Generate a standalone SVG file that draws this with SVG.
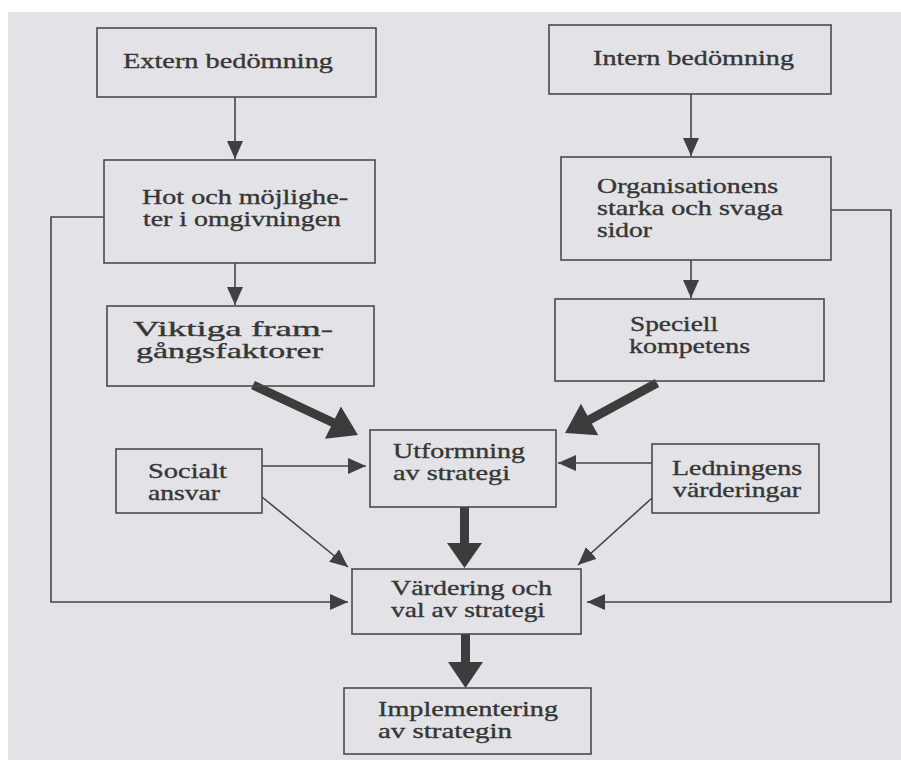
<svg xmlns="http://www.w3.org/2000/svg" width="901" height="760" viewBox="0 0 901 760">
  <defs>
    <style>
      .box { fill: none; stroke: #4a4a4a; stroke-width: 1.6; }
      .lbl { font-family: "Liberation Serif", "Times New Roman", serif; font-size: 21px; fill: #363636; stroke: #363636; stroke-width: 0.35; }
      .thin { fill: none; stroke: #454545; stroke-width: 1.6; }
      .thick { fill: none; stroke: #3c3c3c; stroke-width: 9; }
      .head { fill: #3c3c3c; }
    </style>
    <marker id="tip" markerUnits="userSpaceOnUse" markerWidth="18" markerHeight="16" refX="18" refY="8" orient="auto">
      <path d="M0,0 L18,8 L0,16 z" fill="#404040"/>
    </marker>
  </defs>

  <!-- page -->
  <rect x="0" y="0" width="901" height="760" fill="#ffffff"/>
  <rect x="8" y="12" width="893" height="748" fill="#e3e3e7"/>

  <!-- connectors -->
  <g id="connectors">
    <line class="thin" x1="235" y1="97" x2="235" y2="159" marker-end="url(#tip)"/>
    <line class="thin" x1="691" y1="94" x2="691" y2="156" marker-end="url(#tip)"/>
    <line class="thin" x1="235" y1="263" x2="235" y2="305" marker-end="url(#tip)"/>
    <line class="thin" x1="691" y1="260" x2="691" y2="298" marker-end="url(#tip)"/>
    <line class="thin" x1="262" y1="466" x2="366" y2="466" marker-end="url(#tip)"/>
    <line class="thin" x1="652" y1="463" x2="558" y2="463" marker-end="url(#tip)"/>
    <line class="thin" x1="262" y1="497" x2="348" y2="567" marker-end="url(#tip)"/>
    <line class="thin" x1="652" y1="498" x2="578" y2="565" marker-end="url(#tip)"/>
    <polyline class="thin" points="104,217 51,217 51,602 348,602" marker-end="url(#tip)"/>
    <polyline class="thin" points="831,210 891,210 891,602 587,602" marker-end="url(#tip)"/>

    <!-- heavy arrows -->
    <line class="thick" x1="253" y1="385" x2="334" y2="423"/>
    <polygon class="head" points="358,435 324.9,438.7 340.9,406.5"/>
    <line class="thick" x1="657" y1="383" x2="589" y2="420"/>
    <polygon class="head" points="565,433 580.9,403.7 598.3,435.3"/>
    <line class="thick" x1="464.5" y1="507" x2="464.5" y2="544"/>
    <polygon class="head" points="447,543 482,543 464.5,568"/>
    <line class="thick" x1="465.5" y1="634" x2="465.5" y2="663"/>
    <polygon class="head" points="448,662 483,662 465.5,688"/>
  </g>

  <g id="extern">
    <rect class="box" x="97" y="28" width="279" height="69"/>
    <text class="lbl" x="123" y="68" textLength="210" lengthAdjust="spacingAndGlyphs">Extern bedömning</text>
  </g>
  <g id="intern">
    <rect class="box" x="549" y="25" width="282" height="69"/>
    <text class="lbl" x="593" y="65" textLength="201" lengthAdjust="spacingAndGlyphs">Intern bedömning</text>
  </g>
  <g id="hot">
    <rect class="box" x="104" y="160" width="271" height="103"/>
    <text class="lbl" x="142" y="204" textLength="206" lengthAdjust="spacingAndGlyphs">Hot och möjlighe-</text>
    <text class="lbl" x="143" y="226" textLength="198" lengthAdjust="spacingAndGlyphs">ter i omgivningen</text>
  </g>
  <g id="organisationens">
    <rect class="box" x="561" y="157" width="270" height="103"/>
    <text class="lbl" x="597" y="193" textLength="181" lengthAdjust="spacingAndGlyphs">Organisationens</text>
    <text class="lbl" x="597" y="215" textLength="186" lengthAdjust="spacingAndGlyphs">starka och svaga</text>
    <text class="lbl" x="597" y="237" textLength="55" lengthAdjust="spacingAndGlyphs">sidor</text>
  </g>
  <g id="viktiga">
    <rect class="box" x="107" y="306" width="267" height="80"/>
    <text class="lbl" x="133" y="336" textLength="200" lengthAdjust="spacingAndGlyphs">Viktiga fram-</text>
    <text class="lbl" x="136" y="358" textLength="187" lengthAdjust="spacingAndGlyphs">gångsfaktorer</text>
  </g>
  <g id="speciell">
    <rect class="box" x="555" y="299" width="269" height="82"/>
    <text class="lbl" x="630" y="331" textLength="88" lengthAdjust="spacingAndGlyphs">Speciell</text>
    <text class="lbl" x="629" y="353" textLength="121" lengthAdjust="spacingAndGlyphs">kompetens</text>
  </g>
  <g id="utformning">
    <rect class="box" x="370" y="430" width="186" height="77"/>
    <text class="lbl" x="393" y="458" textLength="132" lengthAdjust="spacingAndGlyphs">Utformning</text>
    <text class="lbl" x="393" y="480" textLength="117" lengthAdjust="spacingAndGlyphs">av strategi</text>
  </g>
  <g id="socialt">
    <rect class="box" x="116" y="449" width="146" height="64"/>
    <text class="lbl" x="148" y="478" textLength="79" lengthAdjust="spacingAndGlyphs">Socialt</text>
    <text class="lbl" x="148" y="500" textLength="72" lengthAdjust="spacingAndGlyphs">ansvar</text>
  </g>
  <g id="ledningens">
    <rect class="box" x="652" y="444" width="167" height="69"/>
    <text class="lbl" x="672" y="475" textLength="130" lengthAdjust="spacingAndGlyphs">Ledningens</text>
    <text class="lbl" x="673" y="497" textLength="128" lengthAdjust="spacingAndGlyphs">värderingar</text>
  </g>
  <g id="vardering">
    <rect class="box" x="352" y="569" width="229" height="65"/>
    <text class="lbl" x="391" y="595" textLength="161" lengthAdjust="spacingAndGlyphs">Värdering och</text>
    <text class="lbl" x="391" y="617" textLength="154" lengthAdjust="spacingAndGlyphs">val av strategi</text>
  </g>
  <g id="implementering">
    <rect class="box" x="344" y="688" width="247" height="66"/>
    <text class="lbl" x="378" y="716" textLength="180" lengthAdjust="spacingAndGlyphs">Implementering</text>
    <text class="lbl" x="378" y="738" textLength="134" lengthAdjust="spacingAndGlyphs">av strategin</text>
  </g>
</svg>
